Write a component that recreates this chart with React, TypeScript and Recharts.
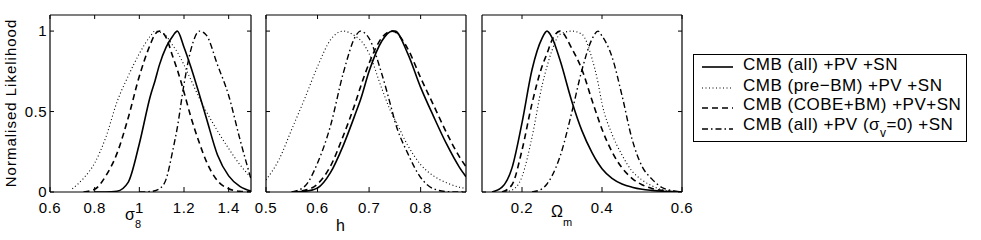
import React from 'react';
import { LineChart, Line, XAxis, YAxis } from 'recharts';

const FONT = '"Liberation Sans", Arial, Helvetica, sans-serif';

// sigma_8 panel
const sigma8X = [0.6, 0.65, 0.7, 0.75, 0.8, 0.85, 0.9, 0.95, 1.0, 1.05, 1.07, 1.09, 1.12, 1.15, 1.17, 1.2, 1.23, 1.27, 1.3, 1.35, 1.4, 1.45, 1.5];
const sigma8All = [null, null, null, null, 0, 0, 0.005, 0.06, 0.3, 0.6, 0.69, 0.79, 0.9, 0.97, 1.0, 0.9, 0.78, 0.6, 0.46, 0.23, 0.1, 0.035, 0.006];
const sigma8Pre = [null, null, 0.02, 0.085, 0.18, 0.34, 0.56, 0.72, 0.86, 0.97, 1.0, 0.995, 0.97, 0.91, 0.87, 0.79, 0.7, 0.58, 0.5, 0.38, 0.27, 0.17, 0.09];
const sigma8Cobe = [null, null, null, 0, 0.017, 0.1, 0.24, 0.46, 0.72, 0.92, 0.98, 1.0, 0.96, 0.84, 0.76, 0.62, 0.47, 0.3, 0.19, 0.07, 0.02, 0.004, 0];
const sigma8Sv0 = [null, null, null, null, null, null, null, null, 0, 0.003, 0.008, 0.02, 0.08, 0.26, 0.4, 0.67, 0.88, 1.0, 0.975, 0.79, 0.6, 0.33, 0.08];
const sigma8Ticks = [0.6, 0.8, 1, 1.2, 1.4];

// h panel
const hX = [0.5, 0.525, 0.55, 0.575, 0.6, 0.625, 0.65, 0.675, 0.683, 0.7, 0.725, 0.745, 0.75, 0.775, 0.8, 0.825, 0.85, 0.875, 0.888];
const hAll = [null, null, 0, 0.004, 0.025, 0.12, 0.29, 0.5, 0.57, 0.75, 0.94, 1.0, 1.0, 0.86, 0.65, 0.47, 0.3, 0.155, 0.095];
const hPre = [0.075, 0.2, 0.39, 0.58, 0.78, 0.945, 1.0, 0.965, 0.945, 0.86, 0.64, 0.48, 0.45, 0.29, 0.17, 0.1, 0.058, 0.03, 0.022];
const hCobe = [null, null, 0, 0.01, 0.05, 0.16, 0.35, 0.57, 0.65, 0.8, 0.96, 1.0, 0.995, 0.89, 0.71, 0.54, 0.37, 0.22, 0.157];
const hSv0 = [null, null, 0, 0.035, 0.18, 0.41, 0.74, 0.975, 1.0, 0.955, 0.73, 0.5, 0.44, 0.24, 0.09, 0.02, 0.003, 0, 0];
const hTicks = [0.5, 0.6, 0.7, 0.8];

// Omega_m panel
const omegaX = [0.1, 0.125, 0.15, 0.175, 0.2, 0.225, 0.25, 0.2625, 0.275, 0.295, 0.325, 0.35, 0.375, 0.39, 0.4, 0.425, 0.45, 0.475, 0.5, 0.525, 0.55, 0.575, 0.6];
const omegaAll = [null, 0, 0.03, 0.15, 0.43, 0.76, 0.955, 1.0, 0.96, 0.82, 0.56, 0.38, 0.245, 0.18, 0.145, 0.085, 0.05, 0.03, 0.017, 0.01, 0.005, 0.002, 0];
const omegaPre = [null, null, 0, 0.012, 0.095, 0.34, 0.66, 0.78, 0.88, 0.98, 1.0, 0.98, 0.83, 0.68, 0.55, 0.36, 0.23, 0.13, 0.075, 0.038, 0.014, 0.004, 0];
const omegaCobe = [null, null, 0, 0.045, 0.26, 0.55, 0.78, 0.86, 0.944, 1.0, 0.89, 0.76, 0.57, 0.46, 0.39, 0.25, 0.15, 0.085, 0.045, 0.022, 0.01, 0.003, 0];
const omegaSv0 = [null, null, null, null, null, 0, 0.02, 0.05, 0.1, 0.22, 0.5, 0.76, 0.95, 1.0, 0.97, 0.84, 0.6, 0.33, 0.16, 0.08, 0.028, 0.009, 0];
const omegaTicks = [0.2, 0.4, 0.6];

const yTicks = [0, 0.5, 1];

const seriesNames = ['CMB (all) +PV +SN', 'CMB (pre\u2212BM) +PV +SN', 'CMB (COBE+BM) +PV+SN', 'CMB (all) +PV (\u03c3v=0) +SN'];

const styles = [
  { key: 'all', dash: undefined, width: 1.6 },
  { key: 'pre', dash: '1 2.5', width: 1.1 },
  { key: 'cobe', dash: '6 4', width: 1.6 },
  { key: 'sv0', dash: '6 3 1.5 3', width: 1.4 },
];

const buildRows = (xs: number[], all: any[], pre: any[], cobe: any[], sv0: any[]) =>
  xs.map((x, i) => ({ x, all: all[i], pre: pre[i], cobe: cobe[i], sv0: sv0[i] }));

const tickStyle = { fill: '#000', fontSize: 15, fontFamily: FONT, letterSpacing: 0.5 };
const blank = () => '';
const axisStroke = { stroke: '#000', strokeWidth: 1.2 };

interface PanelProps {
  rows: any[];
  domain: [number, number];
  ticks: number[];
  left: number;
  right: number;
  showY?: boolean;
}

// axes get a size of 1px (0 makes recharts skip them), margins take that pixel back
const Panel: React.FC<PanelProps> = ({ rows, domain, ticks, left, right, showY }) => (
  <div style={{ position: 'absolute', left: 0, top: 0 }}>
    <LineChart width={981} height={240} data={rows} margin={{ top: 14, bottom: 47, left: left - 1, right: 981 - right - 1 }}>
      <XAxis xAxisId="b" type="number" dataKey="x" domain={domain} ticks={ticks} interval={0} allowDataOverflow
        height={1} tickSize={-5} tickMargin={15} axisLine={axisStroke} tickLine={{ stroke: '#000' }}
        tick={tickStyle} tickFormatter={(v) => String(v)} />
      <XAxis xAxisId="t" orientation="top" type="number" dataKey="x" domain={domain} ticks={ticks} interval={0} allowDataOverflow
        height={1} tickSize={-4} axisLine={axisStroke} tickLine={{ stroke: '#000' }} tick={tickStyle} tickFormatter={blank} />
      <YAxis yAxisId="l" type="number" domain={[0, 1.1]} ticks={yTicks} interval={0} allowDataOverflow
        width={1} tickSize={-4} tickMargin={7} axisLine={axisStroke} tickLine={{ stroke: '#000' }}
        tick={tickStyle} tickFormatter={showY ? (v) => String(v) : blank} />
      <YAxis yAxisId="r" orientation="right" type="number" domain={[0, 1.1]} ticks={yTicks} interval={0} allowDataOverflow
        width={1} tickSize={-4} axisLine={axisStroke} tickLine={{ stroke: '#000' }} tick={tickStyle} tickFormatter={blank} />
      {styles.map((s, i) => (
        <Line key={s.key} xAxisId="b" yAxisId="l" type="monotone" dataKey={s.key} name={seriesNames[i]}
          stroke="#000" strokeWidth={s.width} strokeDasharray={s.dash} dot={false} activeDot={false}
          connectNulls={false} isAnimationActive={false} />
      ))}
    </LineChart>
  </div>
);

const legendRows = [70, 91, 110, 129.5];
const legendLines = [67, 88, 108, 129];

const Annotations: React.FC = () => (
  <svg width={981} height={240} style={{ position: 'absolute', left: 0, top: 0 }} fontFamily={FONT} fill="#000">
    <text transform="translate(16,103) rotate(-90)" textAnchor="middle" fontSize={15} letterSpacing={1}>Normalised Likelihood</text>
    <text x={125} y={220} fontSize={16}>σ<tspan fontSize={11} dy={8}>8</tspan></text>
    <text x={336} y={231} fontSize={16}>h</text>
    <text x={551} y={217} fontSize={16}>Ω<tspan fontSize={11} dy={9}>m</tspan></text>
    <rect x={693.5} y={54.5} width={273} height={87} fill="#fff" stroke="#000" />
    {styles.map((s, i) => (
      <line key={s.key} x1={702} x2={733} y1={legendLines[i]} y2={legendLines[i]} stroke="#000"
        strokeWidth={s.width} strokeDasharray={s.dash} />
    ))}
    {seriesNames.slice(0, 3).map((name, i) => (
      <text key={name} x={743} y={legendRows[i]} fontSize={17} letterSpacing={0.5}>{name}</text>
    ))}
    <text x={743} y={legendRows[3]} fontSize={17} letterSpacing={0.5}>
      CMB (all) +PV (σ<tspan fontSize={12} dy={7}>v</tspan><tspan dy={-7}>=0) +SN</tspan>
    </text>
  </svg>
);

const App: React.FC = () => (
  <div style={{ position: 'absolute', left: 0, top: 0, width: 981, height: 240, background: '#fff' }}>
    <Panel rows={buildRows(sigma8X, sigma8All, sigma8Pre, sigma8Cobe, sigma8Sv0)} domain={[0.6, 1.5]} ticks={sigma8Ticks} left={50} right={251} showY />
    <Panel rows={buildRows(hX, hAll, hPre, hCobe, hSv0)} domain={[0.5, 0.888]} ticks={hTicks} left={266} right={466} />
    <Panel rows={buildRows(omegaX, omegaAll, omegaPre, omegaCobe, omegaSv0)} domain={[0.1, 0.6]} ticks={omegaTicks} left={482} right={682} />
    <Annotations />
  </div>
);

export default App;
